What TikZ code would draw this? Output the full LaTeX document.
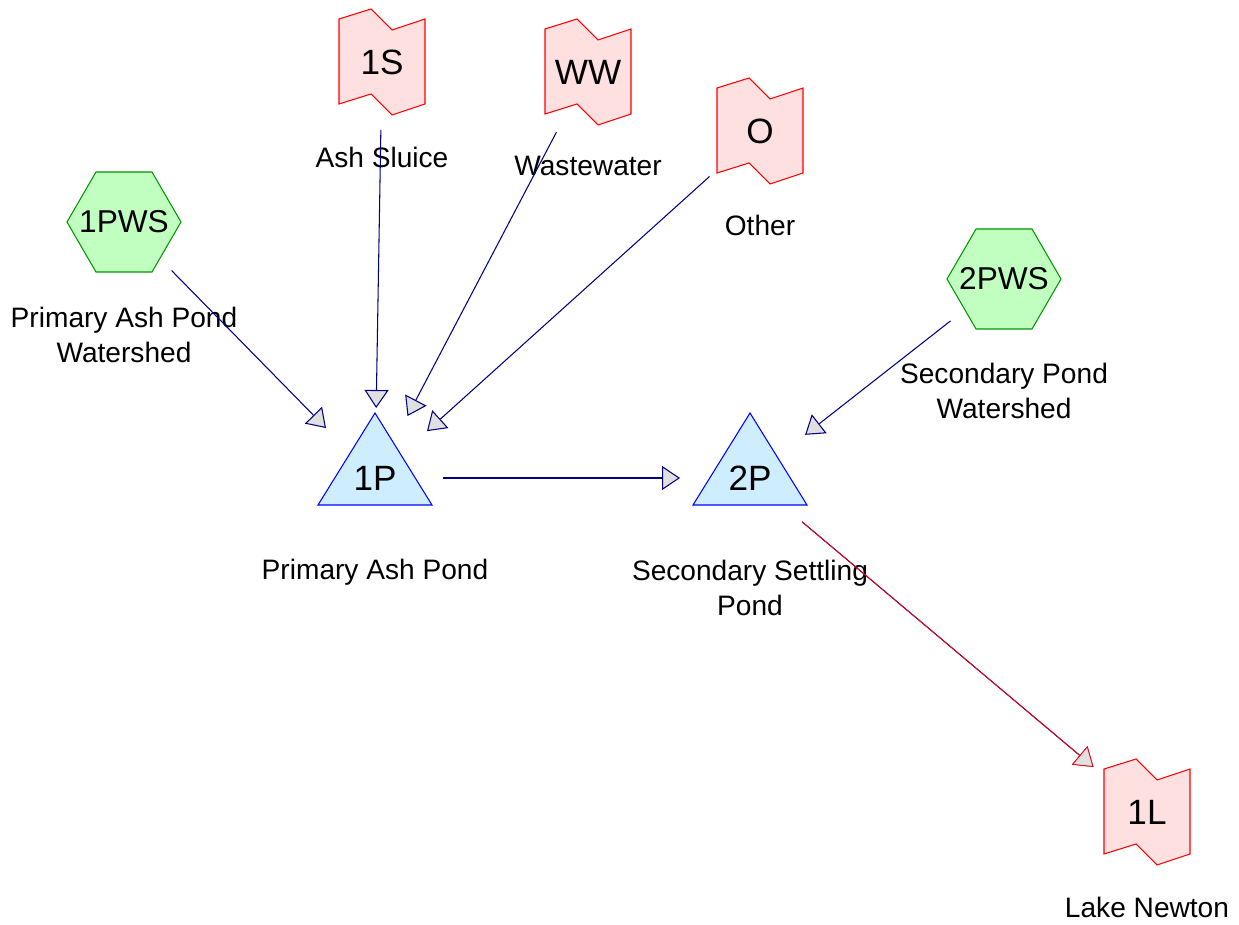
\documentclass[tikz,border=0pt]{standalone}
\usepackage{fontspec}
\setmainfont{Liberation Sans}
\usetikzlibrary{calc,arrows.meta,backgrounds,positioning}
\definecolor{navy}{RGB}{0,0,128}
\definecolor{pondblue}{RGB}{206,238,255}
\definecolor{shedgreen}{RGB}{192,255,192}
\definecolor{shedline}{RGB}{0,150,0}

\begin{document}
\begin{tikzpicture}[x=0.02cm,y=-0.02cm]

\tikzset{bignode/.style={font=\fontsize{20}{24}\selectfont,inner sep=0pt},
shedtext/.style={font=\fontsize{18}{21}\selectfont,inner sep=0pt},
nametext/.style={font=\fontsize{16}{19.5}\selectfont,align=center,inner sep=0pt},
flagline/.style={draw=red,fill=red!12,line width=0.6pt},
pondline/.style={draw=blue,fill=pondblue,line width=0.6pt},
shedline/.style={draw=shedline,fill=shedgreen,line width=0.6pt},
flow/.style={navy,line width=0.6pt,shorten <=13.6mm,shorten >=14mm,-{Triangle[length=3.6mm,width=4.8mm,fill=black!12]}}}

\useasboundingbox (0,0) rectangle (1239,925);

% sources
\node [bignode] (s1) at (382,62) {1S};
\node [bignode] (ww) at (588,72) {WW};
\node [bignode] (o) at (760,131) {O};
\node [shedtext] (pws1) at (124,222) {1PWS};
\node [shedtext] (pws2) at (1004,279) {2PWS};

% ponds and outlet
\node [bignode] (p1) at (375,478) {1P};
\node [bignode] (p2) at (750,478) {2P};
\node [bignode] (l1) at (1147,812) {1L};

% outlines behind the labels
\begin{scope}[on background layer]
\foreach \n in {s1,ww,o,l1} \filldraw[flagline] ($(\n)+(-43,-43)$) -- ($(\n)+(-11,-53)$) -- ($(\n)+(10,-32)$) -- ($(\n)+(43,-43)$) -- ($(\n)+(43,42)$) -- ($(\n)+(10,53)$) -- ($(\n)+(-11,32)$) -- ($(\n)+(-43,42)$) -- cycle;
\foreach \n in {p1,p2} \filldraw[pondline] ($(\n)+(0,-65)$) -- ($(\n)+(57,27)$) -- ($(\n)+(-57,27)$) -- cycle;
\foreach \n in {pws1,pws2} \filldraw[shedline] ($(\n)+(-57,0)$) -- ($(\n)+(-28,-50)$) -- ($(\n)+(28,-50)$) -- ($(\n)+(57,0)$) -- ($(\n)+(28,50)$) -- ($(\n)+(-28,50)$) -- cycle;
\end{scope}

% names
\node [nametext] (s1Name) at ($(s1)+(0,95)$) {Ash Sluice};
\node [nametext] (wwName) at ($(ww)+(0,94)$) {Wastewater};
\node [nametext] (oName) at ($(o)+(0,94)$) {Other};
\node [nametext] (pws1Name) at ($(pws1)+(0,113)$) {Primary Ash Pond\\Watershed};
\node [nametext] (pws2Name) at ($(pws2)+(0,112)$) {Secondary Pond\\Watershed};
\node [nametext] (p1Name) at ($(p1)+(0,94)$) {Primary Ash Pond};
\node [nametext] (p2Name) at ($(p2)+(0,110)$) {Secondary Settling\\Pond};
\node [nametext] (l1Name) at ($(l1)+(0,95)$) {Lake Newton};

% Flows
\draw[flow] (pws1.center) -- (p1.center); \draw[flow] (s1.center) -- (p1.center); \draw[flow] (ww.center) -- (p1.center); \draw[flow] (o.center) -- (p1.center);
\draw[flow] (p1.center) -- (p2.center); \draw[flow] (pws2.center) -- (p2.center);
\draw[flow] (p2.center) -- (l1.center); \draw[flow,red,line width=0.45pt] (p2.center) -- (l1.center);

\end{tikzpicture}
\end{document}
